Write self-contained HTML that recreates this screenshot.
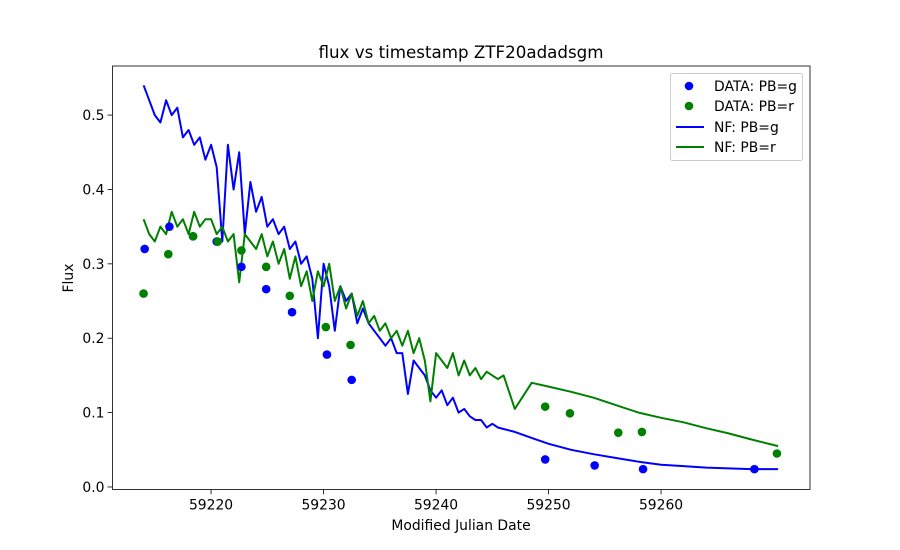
<!DOCTYPE html>
<html><head><meta charset="utf-8"><style>
body{margin:0;background:#fff;}
svg{display:block;font-family:"DejaVu Sans","Liberation Sans",sans-serif;}
</style></head><body>
<svg id="chart" width="900" height="550" xmlns="http://www.w3.org/2000/svg"></svg>
<script>
const gDays=[59214.1,59216.3,59218.4,59220.5,59222.7,59224.9,59227.2,59230.3,59232.5,59249.7,59254.1,59258.4,59268.3];
const gFlux=[0.32,0.35,0.337,0.33,0.296,0.266,0.235,0.178,0.144,0.037,0.029,0.024,0.024];
const rDays=[59214.0,59216.2,59218.4,59220.6,59222.7,59224.9,59227.0,59230.2,59232.4,59249.7,59251.9,59256.2,59258.3,59270.3];
const rFlux=[0.26,0.313,0.337,0.33,0.318,0.296,0.257,0.215,0.191,0.108,0.099,0.073,0.074,0.045];
const nfDays=[];
for(let d=59214;d<=59246;d+=0.5)nfDays.push(d);
const nfTailDays=[59247,59248.5,59250,59252,59254,59256,59258,59260,59262,59264,59266,59268,59270.4];
const nfG=[.54,.52,.50,.49,.52,.50,.51,.47,.48,.46,.47,.44,
.46,.43,.33,.46,.40,.45,.34,.41,.37,.39,.35,.36,.34,.35,.32,.33,.30,.31,.28,.20,.30,.27,.21,.27,.25,.26,.22,.24,.22,.21,.20,.19,.20,.18,.18,.125,.17,.16,.15,.13,.12,.13,.11,.12,.10,.105,.095,.09,.09,.08,.085,.08,.078];
const nfGTail=[.074,.066,.058,.05,.044,.039,.034,.03,.028,.026,.025,.024,.024];
const nfR=[.36,.34,.33,.35,.34,.37,.35,.36,.34,.37,.35,.36,
.36,.34,.35,.33,.34,.275,.34,.33,.32,.34,.31,.33,.30,.32,.28,.31,.27,.29,.25,.29,.27,.30,.25,.27,.24,.26,.23,.25,.22,.23,.21,.22,.20,.21,.19,.21,.18,.20,.17,.115,.18,.17,.16,.18,.15,.17,.15,.16,.145,.155,.15,.145,.15];
const nfRTail=[.105,.14,.135,.128,.12,.11,.1,.093,.087,.079,.072,.064,.055];
const xTicks=[59220,59230,59240,59250,59260];
const yTicks=[0.0,0.1,0.2,0.3,0.4,0.5];

const L=112.5,R=810,T=66,B=489.5;
const x0=59211.24,x1=59273.24,y0=-0.0034,y1=0.566;
const X=v=>L+(v-x0)/(x1-x0)*(R-L);
const Y=v=>B-(v-y0)/(y1-y0)*(B-T);
const svg=document.getElementById('chart');
const NS='http://www.w3.org/2000/svg';
function mk(tag,attrs,parent){const e=document.createElementNS(NS,tag);for(const k in attrs)e.setAttribute(k,attrs[k]);(parent||svg).appendChild(e);return e;}

function lineOf(days,vals,tdays,tvals,color,name){
  const pts=[];days.forEach((d,i)=>pts.push(X(d).toFixed(1)+','+Y(vals[i]).toFixed(1)));
  tdays.forEach((d,i)=>pts.push(X(d).toFixed(1)+','+Y(tvals[i]).toFixed(1)));
  const p=mk('polyline',{points:pts.join(' '),fill:'none',stroke:color,'stroke-width':2,'stroke-linejoin':'round'});
  
  
}
lineOf(nfDays,nfG,nfTailDays,nfGTail,'#0000ff','nf-line-g');
lineOf(nfDays,nfR,nfTailDays,nfRTail,'#008000','nf-line-r');
function dots(days,vals,color,name){
  days.forEach((d,i)=>{const c=mk('circle',{cx:X(d),cy:Y(vals[i]),r:4.3,fill:color});
  
  });
}
dots(gDays,gFlux,'#0000ff','data-point-g');
dots(rDays,rFlux,'#008000','data-point-r');

const frame=mk('rect',{x:L,y:T,width:R-L,height:B-T,fill:'none',stroke:'#000','stroke-width':0.8});


xTicks.forEach(t=>{mk('line',{x1:X(t),x2:X(t),y1:B,y2:B+4.9,stroke:'#000','stroke-width':0.8});
 const tx=mk('text',{x:X(t),y:B+20,'text-anchor':'middle','font-size':13.9});tx.textContent=t;
 
 });
yTicks.forEach(t=>{mk('line',{x1:L-4.9,x2:L,y1:Y(t),y2:Y(t),stroke:'#000','stroke-width':0.8});
 const tx=mk('text',{x:L-8,y:Y(t)+5,'text-anchor':'end','font-size':13.9});tx.textContent=t.toFixed(1);
 
 });
</script>
<svg width="900" height="550" style="position:absolute;left:0;top:0" xmlns="http://www.w3.org/2000/svg">
<text x="461" y="58" text-anchor="middle" font-size="16.7" font-family="DejaVu Sans, Liberation Sans, sans-serif">flux vs timestamp ZTF20adadsgm</text>
<text x="461" y="530" text-anchor="middle" font-size="13.9" font-family="DejaVu Sans, Liberation Sans, sans-serif">Modified Julian Date</text>
<text x="73" y="278" text-anchor="middle" font-size="13.9" font-family="DejaVu Sans, Liberation Sans, sans-serif" transform="rotate(-90 73 278)">Flux</text>
<g font-family="DejaVu Sans, Liberation Sans, sans-serif" font-size="13.9">
<rect x="670.5" y="73.5" width="132" height="87" rx="2" fill="#fff" fill-opacity="0.8" stroke="#ccc"/>
<circle cx="689" cy="86" r="4.3" fill="#0000ff"/>
<text x="714" y="91">DATA: PB=g</text>
<circle cx="689" cy="106" r="4.3" fill="#008000"/>
<text x="714" y="111">DATA: PB=r</text>
<line x1="676" x2="704" y1="127" y2="127" stroke="#0000ff" stroke-width="2"/>
<text x="714" y="132">NF: PB=g</text>
<line x1="676" x2="704" y1="147" y2="147" stroke="#008000" stroke-width="2"/>
<text x="714" y="152">NF: PB=r</text>
</g>
</svg>
</body></html>
